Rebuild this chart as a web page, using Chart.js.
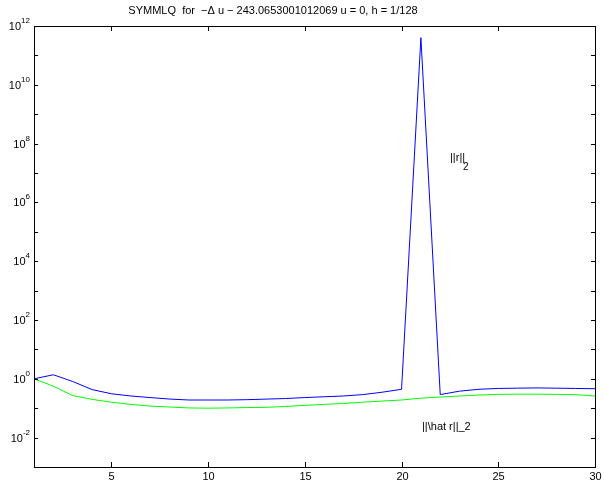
<!DOCTYPE html>
<html>
<head>
<meta charset="UTF-8">
<script src="https://cdn.jsdelivr.net/npm/chart.js"></script>
<style>
  body { margin: 0; background: #fff; }
  canvas { display: block; }
</style>
</head>
<body>
<canvas id="symmlqChart" width="604" height="486"></canvas>
<script>
// iteration numbers
var iterations = [1, 2, 3, 4, 5, 6, 7, 8, 9, 10, 11, 12, 13, 14, 15,
                  16, 17, 18, 19, 20, 21, 22, 23, 24, 25, 26, 27, 28, 29, 30];

// ||r||_2  (blue)
var residualNorm = [1.0, 1.37, 0.81, 0.43, 0.31, 0.26, 0.23, 0.205, 0.19, 0.19,
                    0.19, 0.195, 0.204, 0.213, 0.23, 0.245, 0.26, 0.29, 0.35, 0.44,
                    4e11, 0.29, 0.38, 0.44, 0.47, 0.48, 0.49, 0.48, 0.47, 0.46];

// ||\hat r||_2  (green)
var hatResidualNorm = [1.0, 0.56, 0.27, 0.20, 0.16, 0.135, 0.118, 0.11, 0.102, 0.1,
                       0.102, 0.105, 0.107, 0.115, 0.125, 0.135, 0.145, 0.16, 0.175, 0.19,
                       0.22, 0.24, 0.26, 0.28, 0.295, 0.30, 0.30, 0.295, 0.29, 0.26];

var xTicks = [5, 10, 15, 20, 25, 30];
var yExponents = [-3, -2, -1, 0, 1, 2, 3, 4, 5, 6, 7, 8, 9, 10, 11, 12];
var yLabelExponents = [-2, 0, 2, 4, 6, 8, 10, 12];

var titleText = 'SYMMLQ  for  \u2212\u0394 u \u2212 243.0653001012069 u = 0, h = 1/128';
var fontFamily = '"Liberation Sans", Arial, sans-serif';

function toPoints(ys) {
    return iterations.map((x, i) => ({ x: x, y: ys[i] }));
}

// matlab style box, inward ticks, 10^n labels, title and text labels
var matlabAxes = {
    id: 'matlabAxes',
    afterDraw: function (chart) {
        var ctx = chart.ctx;
        var area = chart.chartArea;
        var xs = chart.scales.x;
        var ys = chart.scales.y;
        ctx.save();
        ctx.strokeStyle = '#000';
        ctx.lineWidth = 1;
        ctx.strokeRect(Math.round(area.left) + 0.5, Math.round(area.top) + 0.5,
                       Math.round(area.right - area.left), Math.round(area.bottom - area.top));

        ctx.fillStyle = '#000';
        ctx.font = '11px ' + fontFamily;
        ctx.textAlign = 'center';
        ctx.textBaseline = 'top';
        xTicks.forEach(function (v) {
            var px = Math.round(xs.getPixelForValue(v)) + 0.5;
            ctx.beginPath();
            ctx.moveTo(px, area.bottom);
            ctx.lineTo(px, area.bottom - 5);
            ctx.moveTo(px, area.top);
            ctx.lineTo(px, area.top + 5);
            ctx.stroke();
            ctx.fillText(String(v), px, area.bottom + 4);
        });

        yExponents.forEach(function (e) {
            var py = Math.round(ys.getPixelForValue(Math.pow(10, e))) + 0.5;
            ctx.beginPath();
            ctx.moveTo(area.left, py);
            ctx.lineTo(area.left + 4, py);
            ctx.moveTo(area.right, py);
            ctx.lineTo(area.right - 4, py);
            ctx.stroke();
        });

        ctx.textBaseline = 'alphabetic';
        ctx.textAlign = 'left';
        yLabelExponents.forEach(function (e) {
            var py = ys.getPixelForValue(Math.pow(10, e));
            var exp = String(e);
            ctx.font = '8px ' + fontFamily;
            var ew = ctx.measureText(exp).width;
            ctx.font = '11px ' + fontFamily;
            var bw = ctx.measureText('10').width;
            var x0 = area.left - 4 - ew - bw;
            ctx.fillText('10', x0, py + 4);
            ctx.font = '8px ' + fontFamily;
            ctx.fillText(exp, x0 + bw, py - 3);
        });

        ctx.font = '11px ' + fontFamily;
        ctx.textAlign = 'center';
        ctx.textBaseline = 'middle';
        ctx.fillText(titleText, 273, 11);

        ctx.textAlign = 'left';
        ctx.textBaseline = 'alphabetic';
        ctx.fillText('||r||', 450, 161);
        ctx.font = '10px ' + fontFamily;
        ctx.fillText('2', 463, 170);
        ctx.font = '11px ' + fontFamily;
        ctx.fillText('||\\hat r||_2', 422, 430);
        ctx.restore();
    }
};

var ctxChart = document.getElementById('symmlqChart').getContext('2d');
var symmlqChart = new Chart(ctxChart, {
    type: 'line',
    data: {
        datasets: [{
            data: toPoints(residualNorm),
            borderColor: '#0000ff',
            borderWidth: 1,
            pointRadius: 0,
            tension: 0,
            fill: false
        }, {
            data: toPoints(hatResidualNorm),
            borderColor: '#00ff00',
            borderWidth: 1,
            pointRadius: 0,
            tension: 0,
            fill: false
        }]
    },
    options: {
        responsive: false,
        animation: false,
        devicePixelRatio: 1,
        layout: { padding: { top: 26, right: 9, left: 0, bottom: 0 } },
        plugins: {
            legend: { display: false },
            tooltip: { enabled: false },
            title: { display: false }
        },
        scales: {
            x: {
                type: 'linear',
                min: 1,
                max: 30,
                grid: { display: false },
                border: { display: false },
                ticks: { display: false },
                afterFit: function (s) { s.height = 19; }
            },
            y: {
                type: 'logarithmic',
                min: 1e-3,
                max: 1e12,
                grid: { display: false },
                border: { display: false },
                ticks: { display: false },
                afterFit: function (s) { s.width = 34; }
            }
        }
    },
    plugins: [matlabAxes]
});
</script>
</body>
</html>
